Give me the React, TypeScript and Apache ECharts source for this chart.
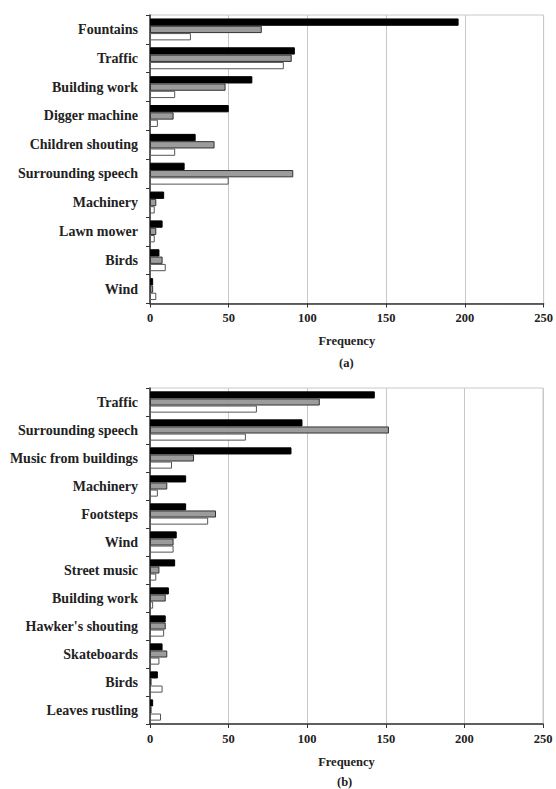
import React, { useEffect, useRef } from "react";
import * as echarts from "echarts";

const catsA = ["Fountains", "Traffic", "Building work", "Digger machine", "Children shouting", "Surrounding speech", "Machinery", "Lawn mower", "Birds", "Wind"];
const blackA = [196, 92, 65, 50, 29, 22, 9, 8, 6, 2];
const grayA = [71, 90, 48, 15, 41, 91, 4, 4, 8, 2];
const whiteA = [26, 85, 16, 5, 16, 50, 3, 3, 10, 4];

const catsB = ["Traffic", "Surrounding speech", "Music from buildings", "Machinery", "Footsteps", "Wind", "Street music", "Building work", "Hawker's shouting", "Skateboards", "Birds", "Leaves rustling"];
const blackB = [143, 97, 90, 23, 23, 17, 16, 12, 10, 8, 5, 2];
const grayB = [108, 152, 28, 11, 42, 15, 6, 10, 10, 11, 1, 1];
const whiteB = [68, 61, 14, 5, 37, 15, 4, 2, 9, 6, 8, 7];

const xTicks = [0, 50, 100, 150, 200, 250];

const FONT = "'Liberation Serif', 'Times New Roman', serif";

export default function App() {
  const ref = useRef<HTMLDivElement>(null);
  useEffect(() => {
    document.body.style.margin = "0";
    const chart = echarts.init(ref.current!, undefined, { renderer: "svg" });
    const xAxisBase = (gridIndex: number) => ({
      type: "value",
      gridIndex,
      min: xTicks[0],
      max: xTicks[xTicks.length - 1],
      interval: 50,
      name: "Frequency",
      nameLocation: "middle",
      nameGap: 31,
      nameTextStyle: { fontFamily: FONT, fontWeight: "bold", fontSize: 12.5, color: "#222" },
      axisLine: { show: true, lineStyle: { color: "#333", width: 1.5 } },
      axisTick: { show: true, length: 4, lineStyle: { color: "#333" } },
      axisLabel: { fontFamily: FONT, fontWeight: "bold", fontSize: 12.5, color: "#222", margin: 8 },
      splitLine: { show: true, lineStyle: { color: "#c8c8c8", width: 1 } },
    });
    const yAxisBase = (gridIndex: number, cats: string[]) => ({
      type: "category",
      gridIndex,
      data: cats,
      inverse: true,
      axisLine: { show: true, lineStyle: { color: "#333", width: 1.5 } },
      axisTick: { show: true, length: 4, lineStyle: { color: "#333" } },
      axisLabel: { fontFamily: FONT, fontWeight: "bold", fontSize: 14, color: "#222", margin: 12 },
      splitLine: { show: false },
    });
    const barSeries = (idx: number, data: number[], kind: string) => {
      const style =
        kind === "black"
          ? { color: "#000", borderColor: "#000", borderWidth: 1 }
          : kind === "gray"
          ? { color: "#9c9c9c", borderColor: "#333", borderWidth: 1 }
          : { color: "#fff", borderColor: "#555", borderWidth: 1 };
      return {
        type: "bar",
        xAxisIndex: idx,
        yAxisIndex: idx,
        data,
        barGap: "0%",
        barCategoryGap: "24%",
        itemStyle: style,
      };
    };
    chart.setOption({
      animation: false,
      backgroundColor: "#fff",
      grid: [
        { left: 150, top: 15, width: 396, height: 288.5, show: true, borderColor: "#c8c8c8", borderWidth: 1, containLabel: false },
        { left: 150, top: 388, width: 393, height: 336, show: true, borderColor: "#c8c8c8", borderWidth: 1, containLabel: false },
      ],
      xAxis: [xAxisBase(0), xAxisBase(1)],
      yAxis: [yAxisBase(0, catsA), yAxisBase(1, catsB)],
      series: [
        barSeries(0, blackA, "black"),
        barSeries(0, grayA, "gray"),
        barSeries(0, whiteA, "white"),
        barSeries(1, blackB, "black"),
        barSeries(1, grayB, "gray"),
        barSeries(1, whiteB, "white"),
      ],
      graphic: [
        { type: "text", left: 348 - 9, top: 356, style: { text: "(a)", font: `bold 12.5px ${FONT}`, fill: "#222" } },
        { type: "text", left: 346 - 9, top: 775, style: { text: "(b)", font: `bold 12.5px ${FONT}`, fill: "#222" } },
      ],
    });
    return () => chart.dispose();
  }, []);
  return <div ref={ref} style={{ width: 556, height: 789 }} />;
}
